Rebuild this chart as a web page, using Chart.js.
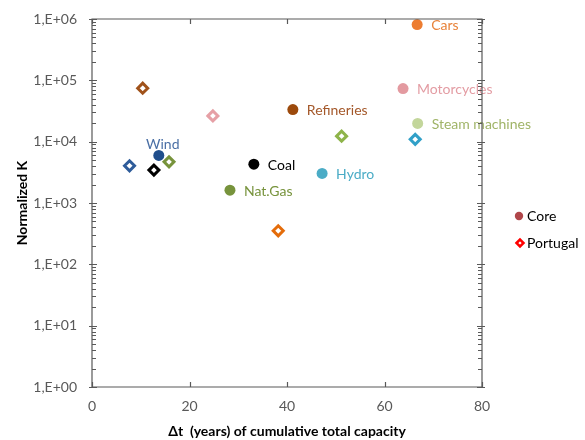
<!DOCTYPE html>
<html>
<head>
<meta charset="utf-8">
<script src="https://cdn.jsdelivr.net/npm/chart.js@4/dist/chart.umd.min.js"></script>
<style>
  html, body { margin: 0; padding: 0; background: #ffffff; }
  #wrap { width: 585px; height: 440px; }
</style>
</head>
<body>
<div id="wrap"><canvas id="chart" width="585" height="440"></canvas></div>
<script>
// Technologies shown on the chart
const categories = ['Cars', 'Motorcycles', 'Refineries', 'Steam machines', 'Hydro', 'Wind', 'Coal', 'Nat.Gas'];

// Core countries: Δt (years) and normalized K
const coreX = [66.7, 63.8, 41.2, 66.8, 47.2, 13.7, 33.2, 28.3];
const coreY = [810000, 73500, 33400, 19800, 3030, 5960, 4300, 1620];

// Portugal: Δt (years) and normalized K
const portugalX = [38.2, 24.8, 10.4, 51.2, 66.3, 7.7, 12.7, 15.8];
const portugalY = [352, 26300, 74300, 12300, 10900, 4040, 3440, 4690];

// Axis ticks
const xTickValues = [0, 20, 40, 60, 80];
const yTickValues = [1, 10, 100, 1000, 10000, 100000, 1000000];
const yTickLabels = ['1,E+00', '1,E+01', '1,E+02', '1,E+03', '1,E+04', '1,E+05', '1,E+06'];

// Colours per technology
const coreColors = ['#ED7D31', '#E39AA0', '#9C4A0C', '#C3D69B', '#4BACC6', '#1F4E8C', '#000000', '#77933C'];
const portugalColors = ['#E46C0A', '#E6A0A6', '#A0521A', '#8EB44A', '#31A0C8', '#2E5C9A', '#000000', '#77933C'];
const labelColors = ['#E8833A', '#E39CA3', '#A4582A', '#A0B468', '#4BACC6', '#4A6FA5', '#000000', '#77933C'];

const FONT = "Lato, 'Open Sans', 'DejaVu Sans', sans-serif";
const AXIS = '#595959';

// Label placement next to the core markers
const labelPlacement = {
  'Wind': { align: 'center', dx: 4, dy: -11 }
};
const defaultPlacement = { align: 'left', dx: 14, dy: 1 };

const pointLabels = {
  id: 'pointLabels',
  afterDatasetsDraw(chart) {
    const ctx = chart.ctx;
    const meta = chart.getDatasetMeta(0);
    ctx.save();
    ctx.font = '14px ' + FONT;
    ctx.textBaseline = 'middle';
    categories.forEach((name, i) => {
      const el = meta.data[i];
      const p = labelPlacement[name] || defaultPlacement;
      ctx.fillStyle = labelColors[i];
      ctx.textAlign = p.align;
      ctx.fillText(name, el.x + p.dx, el.y + p.dy);
    });
    ctx.restore();
  }
};

// Plot frame with inward tick marks and logarithmic minor ticks
const frame = {
  id: 'frame',
  afterDraw(chart) {
    const ctx = chart.ctx;
    const { left, right, top, bottom } = chart.chartArea;
    const xs = chart.scales.x, ys = chart.scales.y;
    ctx.save();
    ctx.strokeStyle = AXIS;
    ctx.lineWidth = 1.2;
    ctx.beginPath();
    ctx.rect(left, top, right - left, bottom - top);
    ctx.stroke();
    ctx.beginPath();
    xTickValues.forEach(v => {
      const px = Math.round(xs.getPixelForValue(v)) + 0.5;
      ctx.moveTo(px, bottom); ctx.lineTo(px, bottom - 5);
      ctx.moveTo(px, top); ctx.lineTo(px, top + 5);
    });
    yTickValues.forEach((v, i) => {
      const py = Math.round(ys.getPixelForValue(v)) + 0.5;
      ctx.moveTo(left - 3, py); ctx.lineTo(left + 5, py);
      ctx.moveTo(right - 5, py); ctx.lineTo(right + 3, py);
      if (i < yTickValues.length - 1) {
        for (let k = 2; k <= 9; k++) {
          const my = Math.round(ys.getPixelForValue(v * k)) + 0.5;
          ctx.moveTo(left, my); ctx.lineTo(left + 4, my);
          ctx.moveTo(right - 4, my); ctx.lineTo(right, my);
        }
      }
    });
    ctx.stroke();
    ctx.restore();
  }
};

// Legend on the right
const sideLegend = {
  id: 'sideLegend',
  afterDraw(chart) {
    const ctx = chart.ctx;
    const ds = chart.data.datasets;
    ctx.save();
    ctx.font = '14px ' + FONT;
    ctx.textBaseline = 'middle';
    ctx.textAlign = 'left';
    // Core
    ctx.beginPath();
    ctx.arc(519, 216, 4.2, 0, Math.PI * 2);
    ctx.fillStyle = '#B0464A';
    ctx.fill();
    ctx.fillStyle = '#000';
    ctx.fillText(ds[0].label, 527, 216);
    // Portugal
    ctx.beginPath();
    ctx.moveTo(516.5, 243); ctx.lineTo(520, 239.5); ctx.lineTo(523.5, 243); ctx.lineTo(520, 246.5); ctx.closePath();
    ctx.fillStyle = '#fff';
    ctx.fill();
    ctx.strokeStyle = '#FF0000';
    ctx.lineWidth = 2.5;
    ctx.stroke();
    ctx.fillStyle = '#000';
    ctx.fillText(ds[1].label, 527, 243);
    ctx.restore();
  }
};

new Chart(document.getElementById('chart'), {
  type: 'scatter',
  data: {
    datasets: [
      {
        label: 'Core',
        data: coreX.map((x, i) => ({ x, y: coreY[i] })),
        pointStyle: 'circle',
        pointRadius: 5.5,
        pointHoverRadius: 5.5,
        pointBackgroundColor: coreColors,
        pointBorderColor: coreColors,
        pointBorderWidth: 0
      },
      {
        label: 'Portugal',
        data: portugalX.map((x, i) => ({ x, y: portugalY[i] })),
        pointStyle: 'rectRot',
        pointRadius: 5,
        pointHoverRadius: 5,
        pointBackgroundColor: '#ffffff',
        pointBorderColor: portugalColors,
        pointBorderWidth: 3
      }
    ]
  },
  options: {
    responsive: false,
    animation: false,
    devicePixelRatio: 1,
    layout: { padding: { top: 19, right: 103, left: 0, bottom: 0 } },
    plugins: {
      legend: { display: false },
      tooltip: { enabled: false }
    },
    scales: {
      x: {
        type: 'linear',
        min: 0,
        max: 80,
        grid: { display: false, drawTicks: false },
        border: { display: false },
        afterBuildTicks: s => { s.ticks = xTickValues.map(v => ({ value: v })); },
        afterFit: s => { s.height = 53; s.paddingLeft = 0; s.paddingRight = 0; },
        ticks: {
          color: AXIS,
          font: { family: FONT, size: 14 },
          padding: 11,
          maxRotation: 0,
          autoSkip: false
        },
        title: {
          display: true,
          text: 'Δt  (years) of cumulative total capacity',
          color: '#000',
          font: { family: FONT, size: 14, weight: 'bold' },
          padding: { top: 0, bottom: 0 }
        }
      },
      y: {
        type: 'logarithmic',
        min: 1,
        max: 1000000,
        grid: { display: false, drawTicks: false },
        border: { display: false },
        afterBuildTicks: s => { s.ticks = yTickValues.map(v => ({ value: v })); },
        afterFit: s => { s.width = 92; s.paddingTop = 0; s.paddingBottom = 0; },
        ticks: {
          color: AXIS,
          font: { family: FONT, size: 14 },
          padding: 15,
          autoSkip: false,
          callback: (v, i) => yTickLabels[i]
        },
        title: {
          display: true,
          text: 'Normalized K',
          color: '#000',
          font: { family: FONT, size: 14, weight: 'bold' },
          padding: { top: 14, bottom: 0 }
        }
      }
    }
  },
  plugins: [pointLabels, frame, sideLegend]
});
</script>
</body>
</html>
